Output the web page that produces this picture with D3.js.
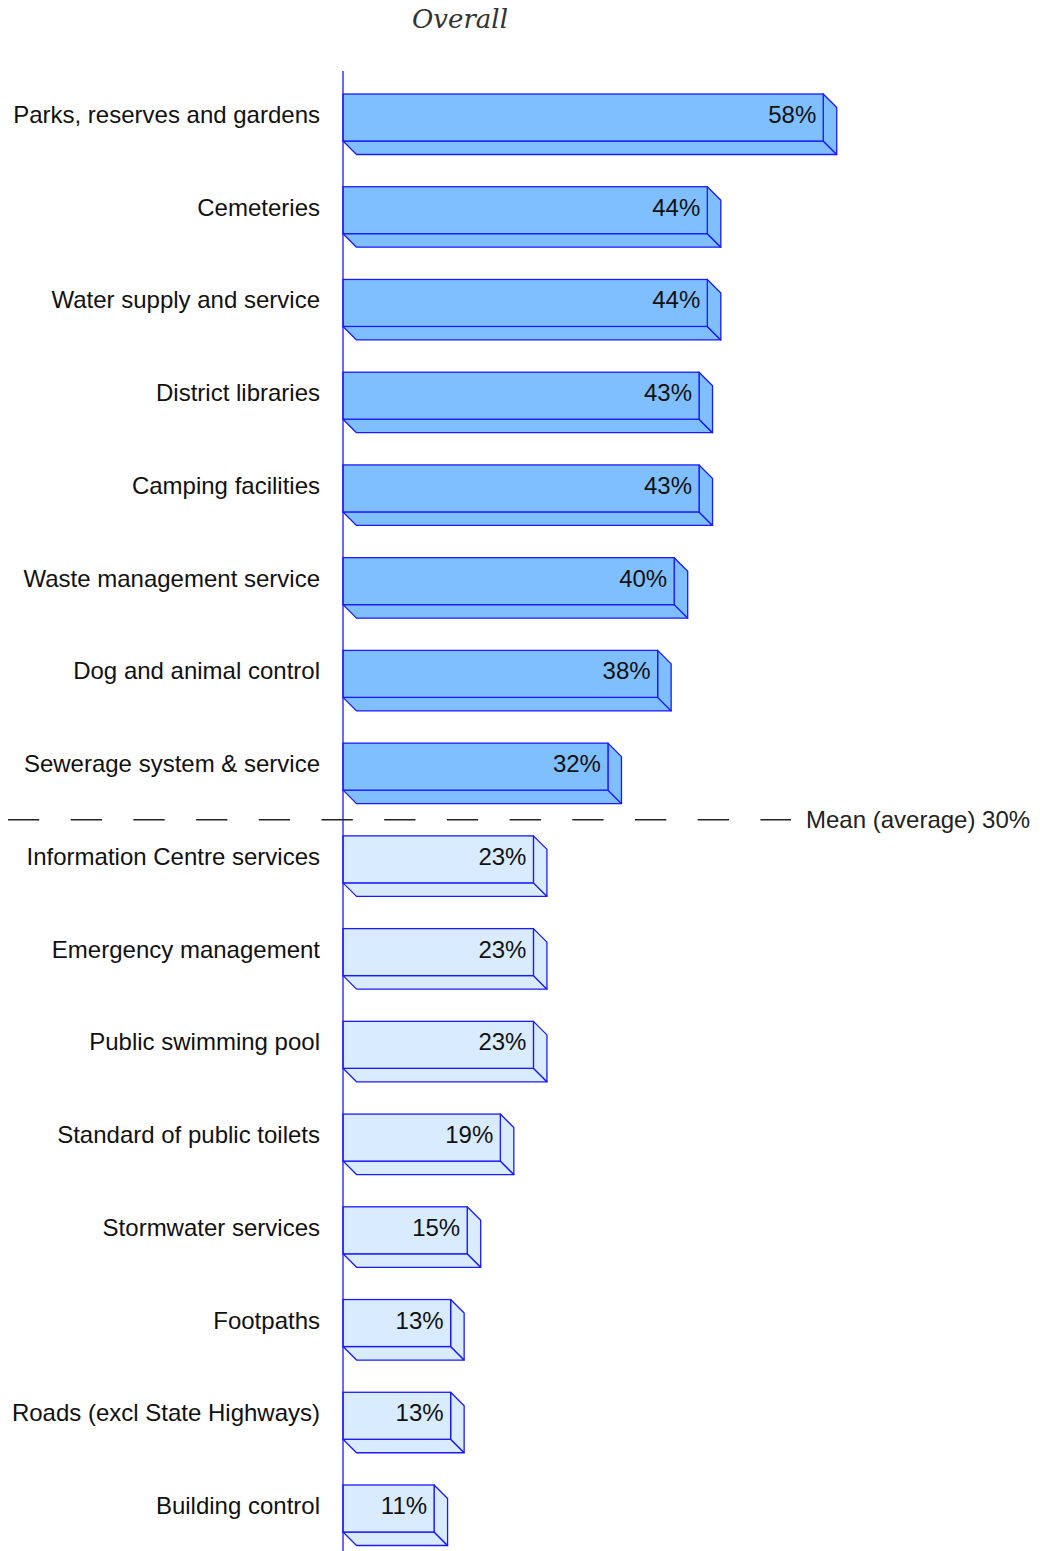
<!DOCTYPE html>
<html>
<head>
<meta charset="utf-8">
<script src="https://cdn.jsdelivr.net/npm/d3@7"></script>
<style>
  html, body { margin: 0; padding: 0; background: #fff; }
  svg { display: block; }
</style>
</head>
<body>
<svg id="chart" width="1040" height="1551"></svg>
<script>
// Share of respondents by council service, sorted high to low
const categories = [
  "Parks, reserves and gardens",
  "Cemeteries",
  "Water supply and service",
  "District libraries",
  "Camping facilities",
  "Waste management service",
  "Dog and animal control",
  "Sewerage system & service",
  "Information Centre services",
  "Emergency management",
  "Public swimming pool",
  "Standard of public toilets",
  "Stormwater services",
  "Footpaths",
  "Roads (excl State Highways)",
  "Building control"
];
const values = [58, 44, 44, 43, 43, 40, 38, 32, 23, 23, 23, 19, 15, 13, 13, 11];
const meanValue = 30;
const titleText = "Overall";
const meanLabel = "Mean (average) 30%";

const svg = d3.select("#chart");
const W = 1040, H = 1551;
const axisX = 343;
const depth = 13.5;
const fontSans = "'Liberation Sans', Arial, Helvetica, sans-serif";
const fontSize = 24;
const baseShift = 5.5; // baseline offset below a row's centre line

const x = d3.scaleLinear().domain([0, 100]).range([axisX, axisX + 828]);
const y = d3.scaleBand()
  .domain(categories)
  .range([71, 1555])
  .paddingInner(0.4933)
  .paddingOuter(0.248);
const bw = y.bandwidth();

const fillAbove = "#80bfff";
const fillBelow = "#d9ebff";
const strokeCol = "#1a1aff";

// title
svg.append("text")
  .attr("x", 460)
  .attr("y", 28)
  .attr("text-anchor", "middle")
  .attr("font-family", "'DejaVu Serif', 'Liberation Serif', serif")
  .attr("font-style", "italic")
  .attr("font-size", 26)
  .attr("fill", "#333")
  .text(titleText);

const data = categories.map((c, i) => ({ c, v: values[i] }));

// 3D bars: front face with bottom and right depth faces
const bars = svg.append("g").selectAll("g.bar").data(data).join("g").attr("class", "bar");

bars.each(function (d) {
  const g = d3.select(this);
  const x0 = x(0), xr = x(d.v);
  const yt = y(d.c), yb = yt + bw;
  const fill = d.v > meanValue ? fillAbove : fillBelow;
  const line = d3.line();
  // bottom face
  g.append("path")
    .attr("d", line([[x0, yb], [xr, yb], [xr + depth, yb + depth], [x0 + depth, yb + depth]]) + "Z")
    .attr("fill", fill).attr("stroke", strokeCol).attr("stroke-width", 1.3).attr("stroke-linejoin", "round");
  // right face
  g.append("path")
    .attr("d", line([[xr, yt], [xr + depth, yt + depth], [xr + depth, yb + depth], [xr, yb]]) + "Z")
    .attr("fill", fill).attr("stroke", strokeCol).attr("stroke-width", 1.3).attr("stroke-linejoin", "round");
  // front face
  g.append("rect")
    .attr("x", x0).attr("y", yt)
    .attr("width", xr - x0).attr("height", bw)
    .attr("fill", fill).attr("stroke", strokeCol).attr("stroke-width", 1.3);
  // value label
  g.append("text")
    .attr("x", xr - 7)
    .attr("y", yt + bw / 2 + baseShift)
    .attr("text-anchor", "end")
    .attr("font-family", fontSans)
    .attr("font-size", fontSize)
    .attr("fill", "#111")
    .text(d.v + "%");
});

// category axis
const axis = svg.append("g")
  .attr("transform", `translate(${axisX},0)`)
  .call(d3.axisLeft(y).tickSize(0).tickSizeOuter(0).tickPadding(23));
axis.select(".domain")
  .attr("stroke", strokeCol)
  .attr("stroke-width", 1.3)
  .attr("d", `M0,71V${H}`);
axis.selectAll(".tick text")
  .attr("font-family", fontSans)
  .attr("font-size", fontSize)
  .attr("fill", "#111")
  .attr("dy", baseShift);

// mean line between the last bar above and the first bar below the mean
const lastAbove = data.filter(d => d.v > meanValue).slice(-1)[0];
const firstBelow = data.find(d => d.v <= meanValue);
const meanY = (y(lastAbove.c) + bw + depth + y(firstBelow.c)) / 2;

svg.append("line")
  .attr("x1", 8).attr("x2", 791)
  .attr("y1", meanY).attr("y2", meanY)
  .attr("stroke", "#222")
  .attr("stroke-width", 1.4)
  .attr("stroke-dasharray", "31.3 31.4");

svg.append("text")
  .attr("x", 806)
  .attr("y", meanY + 8)
  .attr("font-family", fontSans)
  .attr("font-size", fontSize)
  .attr("fill", "#222")
  .text(meanLabel);
</script>
</body>
</html>
